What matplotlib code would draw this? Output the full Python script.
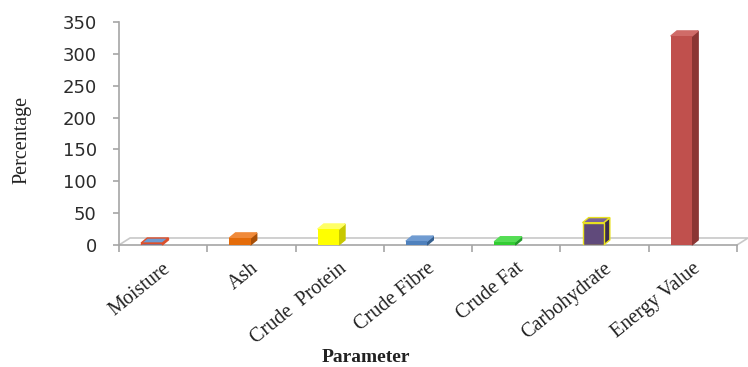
import matplotlib
matplotlib.use("Agg")
import matplotlib.pyplot as plt
from matplotlib.patches import Polygon
from matplotlib.transforms import ScaledTranslation
import numpy as np

categories = ["Moisture", "Ash", "Crude  Protein", "Crude Fibre", "Crude Fat",
              "Carbohydrate", "Energy Value"]
values = [3, 11, 25, 6, 5, 35, 328]
front_colors = ["#4f81bd", "#e46c0a", "#ffff00", "#4f81bd", "#33cc33", "#604a7b", "#c0504d"]
side_colors = ["#3a6496", "#a84f07", "#c8c800", "#345f8f", "#22992a", "#3b2d4d", "#8b3533"]
top_colors = ["#6f9bd1", "#f08a3a", "#ffff66", "#6f9bd1", "#55dd55", "#7a6399", "#d06b68"]
edge_colors = ["#e0502a", "none", "none", "none", "none", "#e8e020", "none"]
yticks = [0, 50, 100, 150, 200, 250, 300, 350]

W, H = 748, 367
fig = plt.figure(figsize=(W / 100, H / 100), dpi=100)
ax = fig.add_axes([119 / W, 1 - 245 / H, (737 - 119) / W, (245 - 22) / H])
ax.set_xlim(-0.5, len(categories) - 0.5)
ax.set_ylim(0, 350)

# floor (3D look)
fdx, fdy = 0.125, 11
floor_col = "#c8c8c8"
x_l, x_r = -0.5, len(categories) - 0.5
ax.plot([x_l, x_l + fdx, x_r + fdx, x_r], [0, fdy, fdy, 0], color=floor_col,
        lw=1.2, clip_on=False, zorder=1)

# bars
w = 0.24
xoff = -0.13
dx, dy = 0.07, 8
x = np.arange(len(categories)) + xoff
ax.bar(x, values, width=w, color=front_colors, edgecolor=edge_colors, linewidth=1.0, zorder=3)
for xi, v, sc, tc, ec in zip(x, values, side_colors, top_colors, edge_colors):
    x0, x1 = xi - w / 2, xi + w / 2
    side = Polygon([(x1, 0), (x1 + dx, dy), (x1 + dx, v + dy), (x1, v)], closed=True,
                   facecolor=sc, edgecolor=ec if ec != "none" else sc, lw=1.0, zorder=2.9,
                   clip_on=False)
    top = Polygon([(x0, v), (x1, v), (x1 + dx, v + dy), (x0 + dx, v + dy)], closed=True,
                  facecolor=tc, edgecolor=ec if ec != "none" else tc, lw=1.0, zorder=2.9,
                  clip_on=False)
    ax.add_patch(side)
    ax.add_patch(top)

# axes styling
for s in ["top", "right"]:
    ax.spines[s].set_visible(False)
for s in ["left", "bottom"]:
    ax.spines[s].set_color("#a6a6a6")
    ax.spines[s].set_linewidth(1.2)

ax.set_yticks(yticks)
ax.set_yticklabels([str(t) for t in yticks], fontsize=13, color="#2b2b2b",
                   family="DejaVu Sans")
ax.tick_params(axis="y", length=4, width=1.2, color="#a6a6a6", pad=12)

ax.set_xticks(np.arange(len(categories)))
ax.set_xticks(np.arange(len(categories) + 1) - 0.5, minor=True)
ax.tick_params(axis="x", which="major", length=0, pad=10)
ax.tick_params(axis="x", which="minor", length=5, width=1.2, color="#a6a6a6")
labels = ax.set_xticklabels(categories, rotation=39, ha="right", va="top",
                            rotation_mode="anchor", fontsize=14.5,
                            family="Liberation Serif", color="#222222")
shift = ScaledTranslation(-1 / 100, 0, fig.dpi_scale_trans)
for lab in labels:
    lab.set_transform(lab.get_transform() + shift)

fig.text(22 / W, 1 - 140 / H, "Percentage", rotation=90, ha="center", va="center",
         fontsize=14.5, family="Liberation Serif", color="#222222")
fig.text(366 / W, 1 - 357 / H, "Parameter", ha="center", va="center",
         fontsize=14, family="Liberation Serif", fontweight="bold", color="#222222")

fig.savefig("out.png", dpi=100)
